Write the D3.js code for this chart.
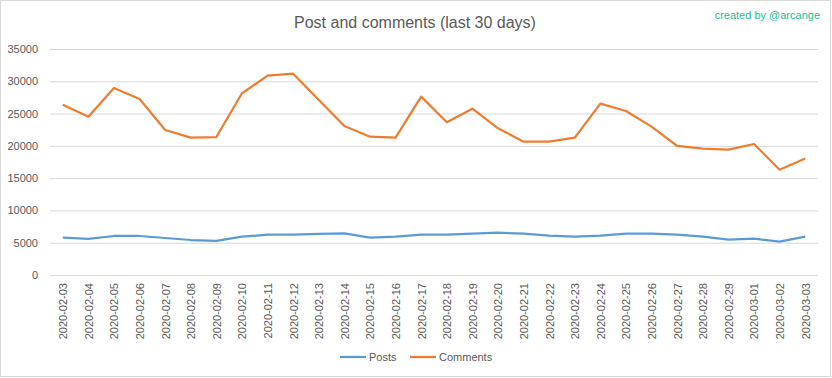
<!DOCTYPE html>
<html>
<head>
<meta charset="utf-8">
<script src="https://cdn.jsdelivr.net/npm/d3@7"></script>
<style>
  body { margin: 0; background: #fff; }
  text { font-family: "Liberation Sans", Arial, sans-serif; fill: #595959; }
</style>
</head>
<body>
<div id="chart"></div>
<script>
const dates = [
  '2020-02-03', '2020-02-04', '2020-02-05', '2020-02-06', '2020-02-07', '2020-02-08',
  '2020-02-09', '2020-02-10', '2020-02-11', '2020-02-12', '2020-02-13', '2020-02-14',
  '2020-02-15', '2020-02-16', '2020-02-17', '2020-02-18', '2020-02-19', '2020-02-20',
  '2020-02-21', '2020-02-22', '2020-02-23', '2020-02-24', '2020-02-25', '2020-02-26',
  '2020-02-27', '2020-02-28', '2020-02-29', '2020-03-01', '2020-03-02', '2020-03-03'
];
const posts = [
  5780, 5580, 6040, 6040, 5730, 5420, 5270, 5930, 6240, 6240,
  6350, 6450, 5780, 5930, 6240, 6240, 6400, 6550, 6400, 6090,
  5930, 6090, 6400, 6400, 6240, 5930, 5470, 5620, 5160, 5930
];
const comments = [
  26350, 24500, 28960, 27260, 22460, 21270, 21370, 28140, 30870, 31180,
  27100, 23080, 21420, 21270, 27620, 23650, 25750, 22720, 20650, 20650,
  21270, 26530, 25400, 22980, 19980, 19560, 19410, 20290, 16310, 18030
];
const yTicks = [0, 5000, 10000, 15000, 20000, 25000, 30000, 35000];
const series = [
  { name: 'Posts', values: posts, color: '#5b9bd5' },
  { name: 'Comments', values: comments, color: '#ed7d31' }
];

const W = 832, H = 378;
const margin = { top: 49, right: 14, bottom: 103, left: 50 };
const width = W - margin.left - margin.right;
const height = H - margin.top - margin.bottom;

const svg = d3.select('#chart')
  .append('svg')
  .attr('width', W)
  .attr('height', H);

svg.append('rect')
  .attr('x', 0.5).attr('y', 0.5)
  .attr('width', W - 2).attr('height', H - 2)
  .attr('fill', '#fff')
  .attr('stroke', '#d9d9d9');

svg.append('text')
  .attr('x', 415).attr('y', 28)
  .attr('text-anchor', 'middle')
  .style('font-size', '16px')
  .text('Post and comments (last 30 days)');

svg.append('text')
  .attr('x', 820).attr('y', 19)
  .attr('text-anchor', 'end')
  .style('font-size', '11px')
  .style('fill', '#1abc9c')
  .text('created by @arcange');

const g = svg.append('g')
  .attr('transform', 'translate(' + margin.left + ',' + margin.top + ')');

const x = d3.scalePoint().domain(dates).range([0, width]).padding(0.5);
const y = d3.scaleLinear().domain([0, 35000]).range([height, 0]);

// grid + y labels
g.append('g')
  .call(d3.axisLeft(y).tickValues(yTicks).tickSize(-width).tickPadding(12).tickFormat(d3.format('d')))
  .call(s => s.select('.domain').remove())
  .call(s => s.selectAll('.tick line').attr('stroke', '#d9d9d9'))
  .call(s => s.selectAll('.tick text').style('font-size', '11px').attr('fill', '#595959'));

// x labels
g.append('g')
  .attr('transform', 'translate(0,' + height + ')')
  .call(d3.axisBottom(x).tickSize(0))
  .call(s => s.select('.domain').remove())
  .call(s => s.selectAll('.tick text')
    .style('font-size', '11px')
    .attr('fill', '#595959')
    .attr('transform', 'rotate(-90)')
    .attr('text-anchor', 'end')
    .attr('x', -8)
    .attr('y', 0)
    .attr('dy', '0.35em'));

const line = d3.line().x((d, i) => x(dates[i])).y(d => y(d));

series.forEach(s => {
  g.append('path')
    .datum(s.values)
    .attr('fill', 'none')
    .attr('stroke', s.color)
    .attr('stroke-width', 2.25)
    .attr('stroke-linejoin', 'round')
    .attr('d', line);
});

// legend
const legend = svg.append('g').attr('transform', 'translate(340,357)');
const legendX = [0, 70];
series.forEach((s, i) => {
  const lg = legend.append('g').attr('transform', 'translate(' + legendX[i] + ',0)');
  lg.append('line')
    .attr('x1', 0).attr('x2', 26)
    .attr('stroke', s.color)
    .attr('stroke-width', 2.25);
  lg.append('text')
    .attr('x', 29).attr('dy', '0.35em')
    .style('font-size', '11px')
    .text(s.name);
});
</script>
</body>
</html>
